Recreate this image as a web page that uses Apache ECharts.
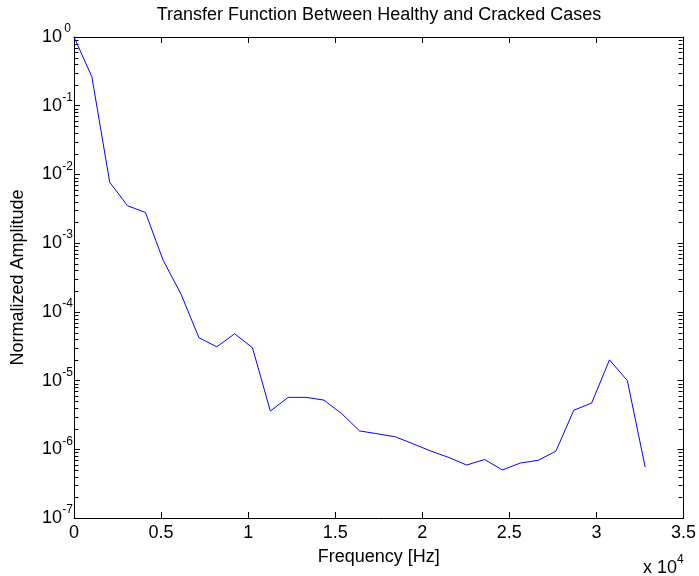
<!DOCTYPE html>
<html>
<head>
<meta charset="utf-8">
<script src="https://cdn.jsdelivr.net/npm/echarts@6/dist/echarts.min.js"></script>
<style>html,body{margin:0;padding:0;background:#fff;}#chart{width:699px;height:576px;}</style>
</head>
<body>
<div id="chart"></div>
<script>
// Frequency samples (Hz)
const frequencies = [0, 1025, 2050, 3075, 4100, 5125, 6150, 7175, 8200, 9225, 10250, 11275, 12300, 13325, 14350, 15375, 16400, 17425, 18450, 19475, 20500, 21525, 22550, 23575, 24600, 25625, 26650, 27675, 28700, 29725, 30750, 31775, 32800];
// Normalized amplitude
const amplitudes = [1.0, 0.264, 7.7e-3, 3.5e-3, 2.8e-3, 5.6e-4, 1.8e-4, 4.2e-5, 3.1e-5, 4.8e-5, 3.0e-5, 3.6e-6, 5.7e-6, 5.7e-6, 5.2e-6, 3.3e-6, 1.85e-6, 1.68e-6, 1.52e-6, 1.2e-6, 9.4e-7, 7.6e-7, 5.9e-7, 7.1e-7, 5.0e-7, 6.3e-7, 6.9e-7, 9.4e-7, 3.7e-6, 4.7e-6, 2.0e-5, 1.0e-5, 5.5e-7];
// x tick labels (x 10^4)
const xTickLabels = ['0', '0.5', '1', '1.5', '2', '2.5', '3', '3.5'];
// y log minor tick values
const yMinorTicks = [];
for (let e = -7; e <= -1; e++) for (let m = 2; m <= 9; m++) yMinorTicks.push(m * Math.pow(10, e));

const chart = echarts.init(document.getElementById('chart'));
const FONT = 'Liberation Sans, Arial, sans-serif';
const black = '#000';
const lineData = frequencies.map((f, i) => [f, amplitudes[i]]);

const yLabelFmt = function (v) {
  const e = Math.round(Math.log10(v));
  return '{b|10}{s|' + e + '}';
};
const yRich = {
  b: { fontSize: 18, fontFamily: FONT, color: black },
  s: { fontSize: 12, fontFamily: FONT, color: black, width: 11, align: 'left', padding: [0, 0, 16, 0] }
};

chart.setOption({
  animation: false,
  backgroundColor: '#fff',
  title: [{
    text: 'Transfer Function Between Healthy and Cracked Cases',
    left: 379, top: 6, textAlign: 'center', padding: 0,
    textStyle: { fontSize: 18, fontWeight: 'normal', fontFamily: FONT, color: black }
  }, {
    text: '{b|x 10}{s|4}',
    left: 643, top: 554, padding: 0,
    textStyle: {
      fontWeight: 'normal',
      rich: {
        b: { fontSize: 18, fontWeight: 'normal', fontFamily: FONT, color: black },
        s: { fontSize: 12, fontWeight: 'normal', fontFamily: FONT, color: black, padding: [0, 0, 16, 0] }
      }
    }
  }],
  grid: { left: 74, right: 14, top: 37, bottom: 58 },
  xAxis: [{
    type: 'value', min: 0, max: 35000, interval: 5000, position: 'bottom',
    name: 'Frequency [Hz]', nameLocation: 'middle', nameGap: 30,
    nameTextStyle: { fontSize: 18, fontFamily: FONT, color: black },
    axisLine: { show: true, onZero: false, lineStyle: { color: black, width: 1 } },
    axisTick: { show: true, inside: true, length: 6, lineStyle: { color: black } },
    axisLabel: {
      margin: 6, fontSize: 18, fontFamily: FONT, color: black,
      formatter: function (v) { return xTickLabels[Math.round(v / 5000)]; }
    },
    splitLine: { show: false }
  }, {
    type: 'value', min: 0, max: 35000, interval: 5000, position: 'top',
    axisLine: { show: true, onZero: false, lineStyle: { color: black, width: 1 } },
    axisTick: { show: true, inside: true, length: 6, lineStyle: { color: black } },
    axisLabel: { show: false }, splitLine: { show: false }
  }],
  yAxis: [{
    type: 'log', logBase: 10, min: 1e-7, max: 1, splitNumber: 7, position: 'left',
    name: 'Normalized Amplitude', nameLocation: 'middle', nameGap: 47, nameRotate: 90,
    nameTextStyle: { fontSize: 18, fontFamily: FONT, color: black },
    axisLine: { show: true, onZero: false, lineStyle: { color: black, width: 1 } },
    axisTick: { show: true, inside: true, length: 6, lineStyle: { color: black } },
    axisLabel: { margin: 1, formatter: yLabelFmt, rich: yRich },
    splitLine: { show: false }
  }, {
    type: 'log', logBase: 10, min: 1e-7, max: 1, splitNumber: 7, position: 'right',
    axisLine: { show: true, onZero: false, lineStyle: { color: black, width: 1 } },
    axisTick: { show: true, inside: true, length: 6, lineStyle: { color: black } },
    axisLabel: { show: false }, splitLine: { show: false }
  }],
  series: [{
    type: 'line', data: lineData, xAxisIndex: 0, yAxisIndex: 0,
    showSymbol: false, symbol: 'none',
    lineStyle: { color: '#0000ff', width: 1 }, silent: true
  }, {
    type: 'custom', xAxisIndex: 0, yAxisIndex: 0, silent: true, clip: false,
    data: yMinorTicks.map(v => [0, v]),
    renderItem: function (params, api) {
      const v = api.value(1);
      const pl = api.coord([0, v]);
      const pr = api.coord([35000, v]);
      const y = Math.round(pl[1]) + 0.5;
      const xl = Math.round(pl[0]) + 0.5;
      const xr = Math.round(pr[0]) - 0.5;
      const st = { stroke: black, lineWidth: 1 };
      return {
        type: 'group', children: [
          { type: 'line', shape: { x1: xl, y1: y, x2: xl + 4, y2: y }, style: st },
          { type: 'line', shape: { x1: xr, y1: y, x2: xr - 4, y2: y }, style: st }
        ]
      };
    }
  }]
});
</script>
</body>
</html>
